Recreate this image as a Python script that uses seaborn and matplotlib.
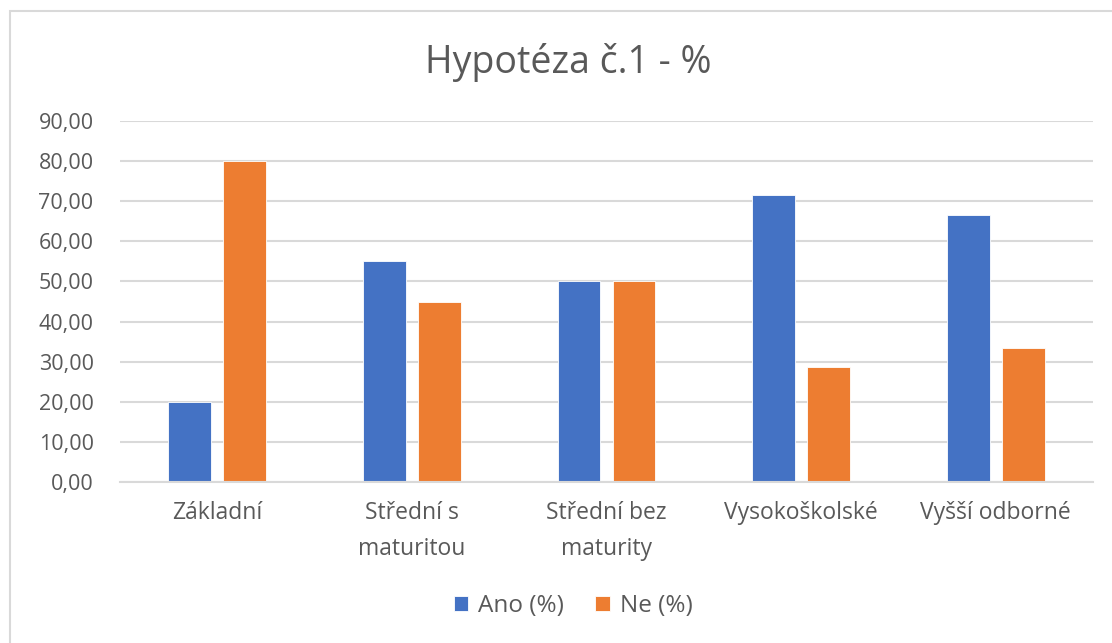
import matplotlib
matplotlib.use("Agg")
import matplotlib.pyplot as plt
import seaborn as sns
import pandas as pd
from matplotlib.patches import Rectangle
from matplotlib.ticker import FuncFormatter, MultipleLocator

categories = ["Základní", "Střední s\nmaturitou", "Střední bez\nmaturity", "Vysokoškolské", "Vyšší odborné"]
ano = [20.00, 55.00, 50.00, 71.43, 66.67]
ne = [80.00, 45.00, 50.00, 28.57, 33.33]
series = ["Ano (%)", "Ne (%)"]
colors = ["#4472C4", "#ED7D31"]

df = pd.DataFrame({
    "cat": categories * 2,
    "val": ano + ne,
    "series": [series[0]] * len(categories) + [series[1]] * len(categories),
})

sns.set_theme(style="white")
plt.rcParams['font.family'] = ['Open Sans', 'DejaVu Sans']

fig = plt.figure(figsize=(11.12, 6.43), dpi=100)
ax = fig.add_axes([120/1112, 1-482/643, (1093-120)/1112, (482-121)/643])

sns.barplot(data=df, x="cat", y="val", hue="series", palette=colors,
            width=0.565, gap=0.22, ax=ax, saturation=1, legend=True,
            edgecolor="white", linewidth=0.6)

ax.set_ylim(0, 90)
ax.yaxis.set_major_locator(MultipleLocator(10))
ax.yaxis.set_major_formatter(FuncFormatter(lambda v, p: f"{v:.2f}".replace(".", ",")))
ax.grid(axis="y", color="#d9d9d9", linewidth=1.5)
ax.set_axisbelow(True)
for s in ["top", "right", "left"]:
    ax.spines[s].set_visible(False)
ax.spines["bottom"].set_color("#d9d9d9")
ax.spines["bottom"].set_linewidth(1.5)
ax.set_xlabel("")
ax.set_ylabel("")
ax.tick_params(axis="y", labelsize=15.5, labelcolor="#595959", length=0, pad=19)
ax.tick_params(axis="x", labelsize=16.5, labelcolor="#595959", length=0, pad=14)
for lbl in ax.get_xticklabels():
    lbl.set_linespacing(1.65)

fig.text(568/1112, 1-62/643, "Hypotéza č.1 - %", ha="center", va="center",
         fontsize=27, color="#595959")

leg = ax.legend(loc="center", bbox_to_anchor=(573/1112, 1-606/643),
                bbox_transform=fig.transFigure, ncol=2, frameon=False,
                fontsize=17.5, handlelength=0.6, handleheight=0.6,
                handletextpad=0.4, columnspacing=1.3)
for t in leg.get_texts():
    t.set_color("#595959")

fig.patches.append(Rectangle((10/1112, -0.05), 1.1, 1-11/643 + 0.05,
                             transform=fig.transFigure, fill=False,
                             edgecolor="#d9d9d9", linewidth=1.5))

fig.savefig("out.png", dpi=100)
